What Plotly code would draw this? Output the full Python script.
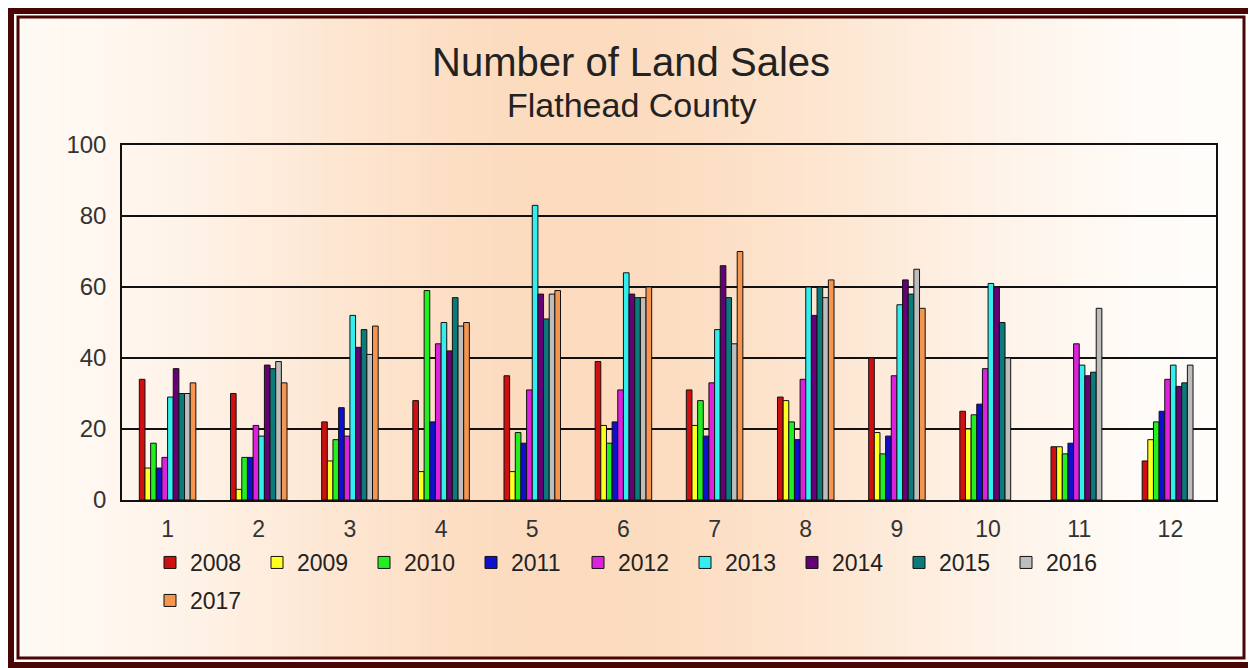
import base64
import struct
import zlib
import plotly.graph_objects as go

# Datos: ventas de terrenos por mes (Flathead County)
meses = ["1", "2", "3", "4", "5", "6", "7", "8", "9", "10", "11", "12"]
anios = ["2008", "2009", "2010", "2011", "2012", "2013", "2014", "2015", "2016", "2017"]

v2008 = [34, 30, 22, 28, 35, 39, 31, 29, 40, 25, 15, 11]
v2009 = [9, 3, 11, 8, 8, 21, 21, 28, 19, 20, 15, 17]
v2010 = [16, 12, 17, 59, 19, 16, 28, 22, 13, 24, 13, 22]
v2011 = [9, 12, 26, 22, 16, 22, 18, 17, 18, 27, 16, 25]
v2012 = [12, 21, 18, 44, 31, 31, 33, 34, 35, 37, 44, 34]
v2013 = [29, 18, 52, 50, 83, 64, 48, 60, 55, 61, 38, 38]
v2014 = [37, 38, 43, 42, 58, 58, 66, 52, 62, 60, 35, 32]
v2015 = [30, 37, 48, 57, 51, 57, 57, 60, 58, 50, 36, 33]
v2016 = [30, 39, 41, 49, 58, 57, 44, 57, 65, 40, 54, 38]
v2017 = [33, 33, 49, 50, 59, 60, 70, 62, 54, None, None, None]

series = [v2008, v2009, v2010, v2011, v2012, v2013, v2014, v2015, v2016, v2017]
colores = ["#d01010", "#ffff22", "#22ee22", "#1010cc", "#dd22dd",
           "#33eeee", "#660077", "#0a7a7a", "#bdbdbd", "#f59650"]

# la pagina deja 8px de margen en el body, asi que todo se corre 8px
OFF = 8
W, H = 1256 - OFF, 668 - OFF
L, R, T, B = 122 - OFF, 1216 - OFF, 145 - OFF, 500 - OFF


def px_x(px):
    # px en coordenadas de la pantalla de referencia
    return (px - OFF - L) / (R - L)


def px_y(py):
    return (B - (py - OFF)) / (B - T)


def fx(px):
    # px en coordenadas de la figura
    return (px - L) / (R - L)


def fy(py):
    return (B - py) / (B - T)


def gradiente_png():
    # fondo durazno con degradado horizontal
    ancho = 512
    paradas = [(0.0, (255, 249, 243)), (0.45, (252, 219, 190)), (1.0, (255, 253, 250))]
    fila = bytearray([0])
    for i in range(ancho):
        t = i / (ancho - 1)
        for (t0, c0), (t1, c1) in zip(paradas[:-1], paradas[1:]):
            if t0 <= t <= t1:
                f = (t - t0) / (t1 - t0)
                f = f * f * (3 - 2 * f)
                fila += bytes(int(round(a + (b - a) * f)) for a, b in zip(c0, c1))
                break
    raw = bytes(fila)

    def chunk(tag, data):
        c = struct.pack(">I", len(data)) + tag + data
        return c + struct.pack(">I", zlib.crc32(tag + data) & 0xffffffff)

    png = b"\x89PNG\r\n\x1a\n"
    png += chunk(b"IHDR", struct.pack(">IIBBBBB", ancho, 1, 8, 2, 0, 0, 0))
    png += chunk(b"IDAT", zlib.compress(raw))
    png += chunk(b"IEND", b"")
    return "data:image/png;base64," + base64.b64encode(png).decode()


fig = go.Figure()
for anio, vals, col in zip(anios, series, colores):
    fig.add_trace(go.Bar(
        x=meses, y=vals, name=anio,
        marker=dict(color=col, line=dict(color="#111111", width=1)),
        legend="legend2" if anio == "2017" else "legend",
    ))

fuente = "Liberation Sans, Arial, sans-serif"

fig.update_layout(
    width=W, height=H,
    margin=dict(l=L, r=W - R, t=T, b=H - B, autoexpand=False),
    paper_bgcolor="white",
    plot_bgcolor="rgba(0,0,0,0)",
    barmode="group",
    bargap=0.38,
    bargroupgap=0,
    font=dict(family=fuente, size=23, color="#333333"),
    xaxis=dict(type="category", showgrid=False, showline=True, linecolor="#111111",
               linewidth=1.5, mirror=True, ticks="", tickfont=dict(size=23, color="#333333"),
               ticklabelstandoff=8),
    yaxis=dict(range=[0, 100], dtick=20, showgrid=True, gridcolor="#111111", gridwidth=1.5,
               showline=True, linecolor="#111111", linewidth=1.5, mirror=True,
               ticks="", zeroline=False, tickfont=dict(size=24, color="#333333"),
               ticklabelstandoff=9),
    legend=dict(orientation="h", x=px_x(150), y=px_y(541), xanchor="left", yanchor="top",
                entrywidth=62, entrywidthmode="pixels", bgcolor="rgba(0,0,0,0)",
                font=dict(size=23, color="#222222"), traceorder="normal"),
    legend2=dict(orientation="h", x=px_x(150), y=px_y(579), xanchor="left", yanchor="top",
                 bgcolor="rgba(0,0,0,0)", font=dict(size=23, color="#222222")),
    showlegend=True,
    images=[dict(source=gradiente_png(), xref="paper", yref="paper",
                 x=fx(10), y=fy(9), sizex=fx(1236) - fx(10),
                 sizey=fy(9) - fy(650), sizing="stretch", layer="below",
                 xanchor="left", yanchor="top")],
)

# Titulos
fig.add_annotation(text="Number of Land Sales", xref="paper", yref="paper",
                   x=px_x(631), y=px_y(62), xanchor="center", yanchor="middle", showarrow=False,
                   font=dict(family=fuente, size=40, color="#222222"))
fig.add_annotation(text="Flathead County", xref="paper", yref="paper",
                   x=px_x(632), y=px_y(105), xanchor="center", yanchor="middle", showarrow=False,
                   font=dict(family=fuente, size=34, color="#222222"))

# Marco doble color vino
fig.add_shape(type="rect", xref="paper", yref="paper",
              x0=fx(3), x1=fx(W - 3), y0=fy(3), y1=fy(H - 3),
              line=dict(color="#4a0505", width=6), layer="above")
fig.add_shape(type="rect", xref="paper", yref="paper",
              x0=fx(10), x1=fx(1236), y0=fy(9), y1=fy(650),
              line=dict(color="#4a0505", width=3), layer="above")

fig.write_html("out.html")
